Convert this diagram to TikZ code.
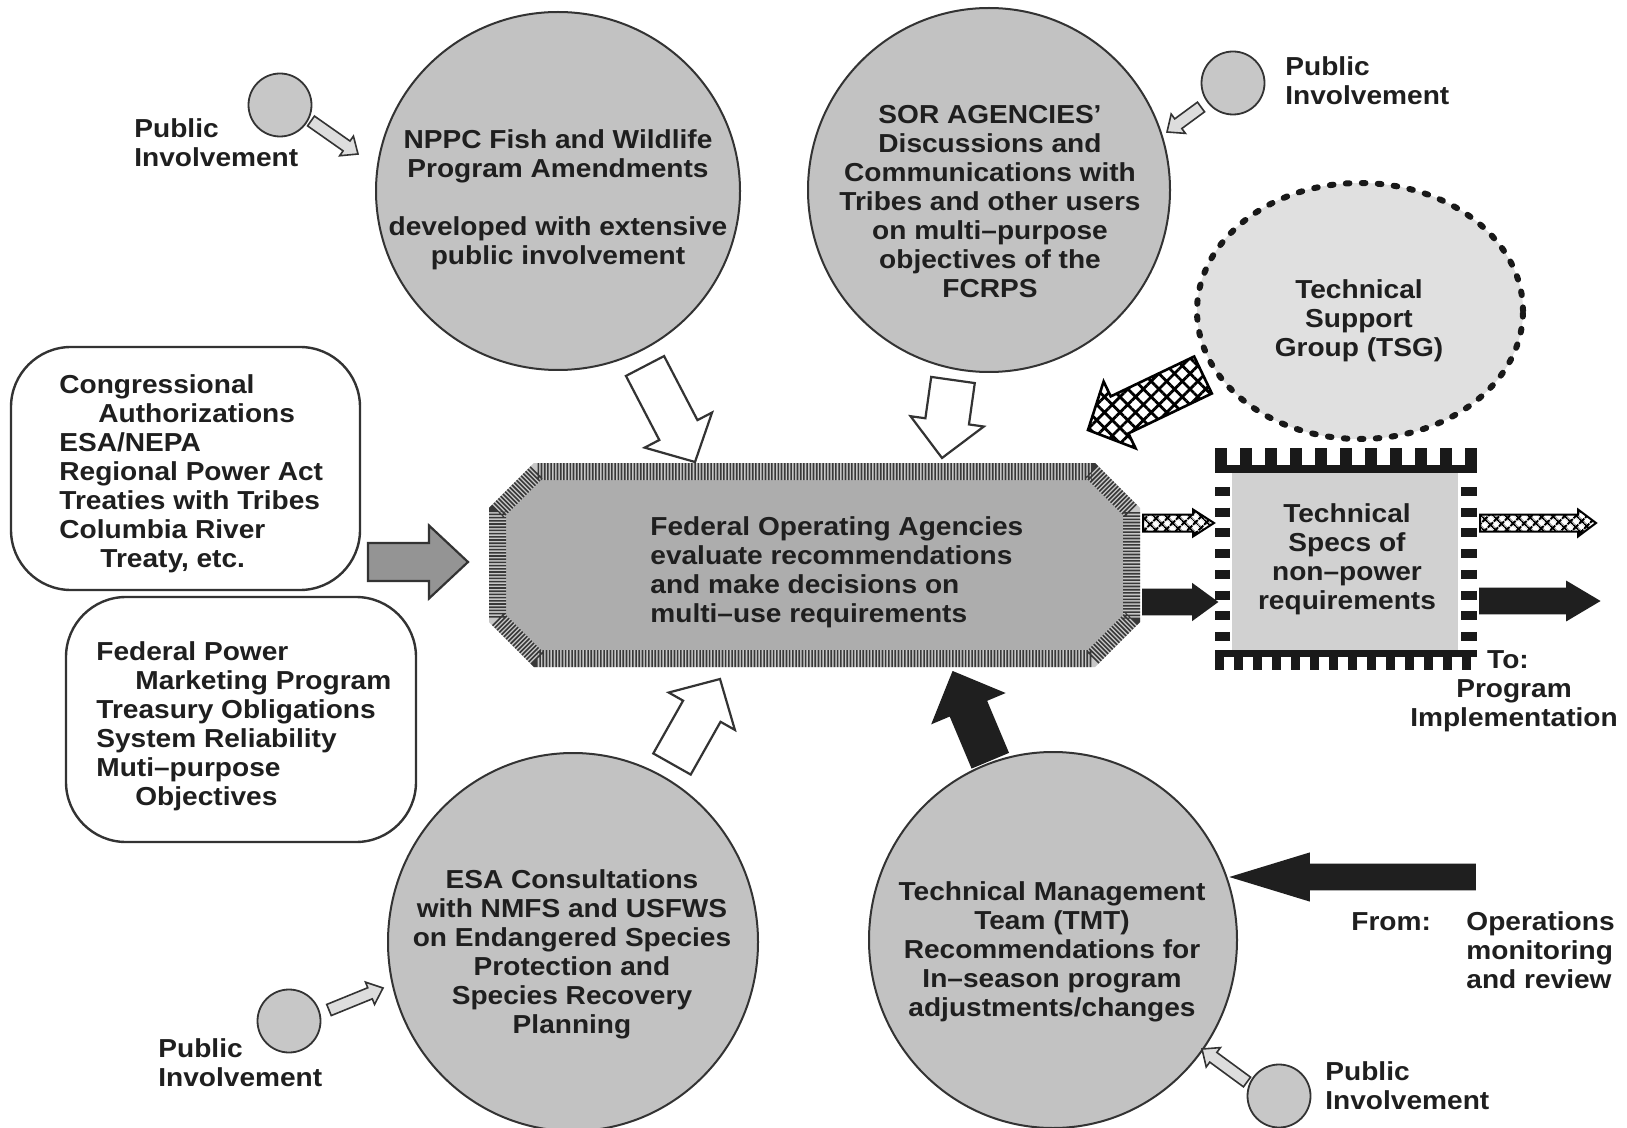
\documentclass[tikz,border=0pt]{standalone}
\usepackage{fontspec}
\setmainfont{Liberation Sans}[FakeStretch=1.08]
\usetikzlibrary{shapes.geometric,calc,patterns.meta}
\definecolor{ellfill}{gray}{0.76}
\definecolor{pubfill}{gray}{0.78}
\definecolor{fedfill}{gray}{0.68}
\definecolor{specfill}{gray}{0.82}
\definecolor{tsgfill}{gray}{0.88}
\definecolor{grayarr}{gray}{0.58}
\definecolor{linec}{gray}{0.2}
\definecolor{txtc}{gray}{0.12}
\definecolor{bandlight}{gray}{0.78}
\definecolor{banddark}{gray}{0.22}
% block arrow: [style]{from}{to}{shaft half width}{head half width}{head length}
\newcommand\barrow[6][]{%
  \coordinate (bah) at ($(#3)!#6!(#2)$);
  \path[#1] ($(#2)!#4!90:(#3)$) -- ($(bah)!#4!90:(#3)$) -- ($(bah)!#5!90:(#3)$) -- (#3)
    -- ($(bah)!#5!270:(#3)$) -- ($(bah)!#4!270:(#3)$) -- ($(#2)!#4!270:(#3)$) -- cycle;}
\begin{document}
\begin{tikzpicture}[x=0.5pt,y=-0.5pt,
  tx/.style={font=\fontsize{13}{14.5}\selectfont\bfseries, text=txtc, inner sep=0pt},
  bigell/.style={ellipse, draw=linec, line width=1pt, fill=ellfill, inner sep=0pt},
  pubc/.style={circle, draw=linec, line width=0.9pt, fill=pubfill, inner sep=0pt, minimum size=31.5pt},
  rbox/.style={draw=linec, line width=1.2pt, fill=white, rounded corners=30pt, inner sep=0pt},
  whitearr/.style={draw=linec, line width=1.1pt, fill=white, line join=miter},
  smallarr/.style={draw=linec, line width=0.8pt, fill=pubfill!60!white, line join=miter},
  blackarr/.style={draw=black!88, line width=0.8pt, fill=black!88, line join=miter},
  grayarr/.style={draw=linec, line width=1.1pt, fill=grayarr, line join=miter},
  hatchbig/.style={draw=black, line width=1.3pt, line join=miter, preaction={fill=white},
    pattern={Hatch[angle=45,distance=5.5pt,line width=1.4pt]}, pattern color=black},
  hatchsmall/.style={draw=black, line width=1pt, line join=miter, preaction={fill=white},
    pattern={Hatch[angle=45,distance=4pt,line width=1.1pt]}, pattern color=black}]
\useasboundingbox (0,0) rectangle (1627,1128);
\clip (0,0) rectangle (1627,1128);
\fill[white] (0,0) rectangle (1627,1128);

% ---- big ellipses ----
\node[bigell, minimum width=182pt, minimum height=179pt] (nppc) at (558,191) {};
\node[bigell, minimum width=181pt, minimum height=182pt] (sor) at (989,190) {};
\node[bigell, minimum width=185pt, minimum height=189pt] (esa) at (573,942) {};
\node[bigell, minimum width=184pt, minimum height=188pt] (tmt) at (1053,940) {};
\node[ellipse, fill=tsgfill, inner sep=0pt, minimum width=163pt, minimum height=128pt,
  draw=black!90, line width=3pt, line cap=round, dash pattern=on 1.8pt off 6.2pt] (tsg) at (1360,311) {};

% ---- public involvement circles ----
\node[pubc] (pa) at (280,105) {};
\node[pubc] (pb) at (1233,83) {};
\node[pubc] (pc) at (289,1021) {};
\node[pubc] (pd) at (1279,1096) {};

% ---- rounded boxes ----
\node[rbox, minimum width=174.5pt, minimum height=121.5pt] (cong) at (185.5,468.5) {};
\node[rbox, minimum width=175pt, minimum height=122.5pt] (fpm) at (241,719.5) {};

% ---- central octagon ----
\coordinate (fed) at (814.5,565);
\path[fill=fedfill, draw=bandlight, line width=8.5pt, line join=miter,
  postaction={draw=banddark, line width=8.5pt, dash pattern=on 0.8pt off 0.8pt}]
  (537.5,471.5) -- (1091.5,471.5) -- (1131.5,511.5) -- (1131.5,618.5)
  -- (1091.5,658.5) -- (537.5,658.5) -- (497.5,618.5) -- (497.5,511.5) -- cycle;

% ---- technical specs box ----
\node[fill=specfill, minimum width=113pt, minimum height=92.5pt, inner sep=0pt] (specs) at (1345,560.5) {};
\draw[black!90, line width=4pt] (1215,469) -- (1477,469);
\draw[black!90, line width=9.5pt, dash pattern=on 6pt off 6.5pt] (1215,457.5) -- (1477,457.5);
\draw[black!90, line width=7.5pt, dash pattern=on 4.5pt off 5.85pt] (1222.5,487) -- (1222.5,650);
\draw[black!90, line width=8pt, dash pattern=on 4.5pt off 5.85pt] (1468.5,487) -- (1468.5,650);
\draw[black!90, line width=3.5pt] (1215,653.5) -- (1477,653.5);
\draw[black!90, line width=8.5pt, dash pattern=on 4.5pt off 5pt] (1215,661.5) -- (1477,661.5);

% ---- arrow end points ----
\coordinate (a1s) at (311,121);   \coordinate (a1e) at (358,154);
\coordinate (a2s) at (1201,107);  \coordinate (a2e) at (1167,132);
\coordinate (a3s) at (329,1010);  \coordinate (a3e) at (383,988);
\coordinate (a4s) at (1247,1082); \coordinate (a4e) at (1202,1049);
\coordinate (a5s) at (645,366);   \coordinate (a5e) at (695,462);
\coordinate (a6s) at (953,380);   \coordinate (a6e) at (942,458);
\coordinate (a7s) at (1203,375);  \coordinate (a7e) at (1088,430);
\coordinate (a8s) at (672,764);   \coordinate (a8e) at (720,679);
\coordinate (a9s) at (990,760);   \coordinate (a9e) at (953,672);
\coordinate (a10s) at (368,562);  \coordinate (a10e) at (468,562);
\coordinate (a11s) at (1143,523); \coordinate (a11e) at (1214,523);
\coordinate (a12s) at (1143,602); \coordinate (a12e) at (1217,602);
\coordinate (a13s) at (1480,523); \coordinate (a13e) at (1596,523);
\coordinate (a14s) at (1480,601); \coordinate (a14e) at (1599,601);
\coordinate (a15s) at (1475,877); \coordinate (a15e) at (1232,877);

% ---- arrows ----
\barrow[smallarr]{a1s}{a1e}{3pt}{6pt}{7pt}
\barrow[smallarr]{a2s}{a2e}{3pt}{6pt}{7pt}
\barrow[smallarr]{a3s}{a3e}{3pt}{6pt}{7pt}
\barrow[smallarr]{a4s}{a4e}{3pt}{6pt}{7pt}
\barrow[whitearr]{a5s}{a5e}{10.75pt}{19pt}{18pt}
\barrow[whitearr]{a6s}{a6e}{11pt}{18.5pt}{18.5pt}
\barrow[hatchbig]{a7s}{a7e}{10.25pt}{18.5pt}{17.5pt}
\barrow[whitearr]{a8s}{a8e}{10.75pt}{19pt}{18.5pt}
\barrow[blackarr]{a9s}{a9e}{9.75pt}{19.25pt}{19.5pt}
\barrow[grayarr]{a10s}{a10e}{9.5pt}{18.25pt}{19.5pt}
\barrow[hatchsmall]{a11s}{a11e}{4.25pt}{6.75pt}{10.5pt}
\barrow[blackarr]{a12s}{a12e}{6.25pt}{8.75pt}{12pt}
\barrow[hatchsmall]{a13s}{a13e}{4.25pt}{6.75pt}{9pt}
\barrow[blackarr]{a14s}{a14e}{6.25pt}{9.5pt}{16pt}
\barrow[blackarr]{a15s}{a15e}{6.25pt}{11.75pt}{38.5pt}

% ---- texts ----
\node[tx, anchor=north west, align=left] (pa-t) at (134,116.7) {\strut Public\\Involvement};
\node[tx, anchor=north west, align=left] (pb-t) at (1285,54.7) {\strut Public\\Involvement};
\node[tx, anchor=north west, align=left] (pc-t) at (158,1036.7) {\strut Public\\Involvement};
\node[tx, anchor=north west, align=left] (pd-t) at (1325,1059.7) {\strut Public\\Involvement};
\node[tx, anchor=north, align=center] (nppc-t) at (558,127.7)
  {\strut NPPC Fish and Wildlife\\Program Amendments\\[14.5pt]developed with extensive\\public involvement};
\node[tx, anchor=north, align=center] (sor-t) at (990,102.7)
  {\strut SOR AGENCIES'\\Discussions and\\Communications with\\Tribes and other users\\on multi--purpose\\objectives of the\\FCRPS};
\node[tx, anchor=north, align=center] (tsg-t) at (1359,277.7) {\strut Technical\\Support\\Group (TSG)};
\node[tx, anchor=north west, align=left] (cong-t) at (59,372.7)
  {\strut Congressional\\\hspace*{19.5pt}Authorizations\\ESA/NEPA\\Regional Power Act\\Treaties with Tribes\\Columbia River\\\hspace*{20.5pt}Treaty, etc.};
\node[tx, anchor=north west, align=left] (fpm-t) at (96,639.7)
  {\strut Federal Power\\\hspace*{19.5pt}Marketing Program\\Treasury Obligations\\System Reliability\\Muti--purpose\\\hspace*{19.5pt}Objectives};
\node[tx, anchor=north west, align=left] (fed-t) at (650,514.7)
  {\strut Federal Operating Agencies\\evaluate recommendations\\and make decisions on\\multi--use requirements};
\node[tx, anchor=north, align=center] (specs-t) at (1347,501.7) {\strut Technical\\Specs of\\non--power\\requirements};
\node[tx, anchor=north, align=center] (to-t) at (1514,647.7) {\strut To:\hspace*{6pt}\\Program\\Implementation};
\node[tx, anchor=north, align=center] (esa-t) at (572,867.7)
  {\strut ESA Consultations\\with NMFS and USFWS\\on Endangered Species\\Protection and\\Species Recovery\\Planning};
\node[tx, anchor=north, align=center] (tmt-t) at (1052,879.7)
  {\strut Technical Management\\Team (TMT)\\Recommendations for\\In--season program\\adjustments/changes};
\node[tx, anchor=north west, align=left] (from-t) at (1351,909.7) {\strut From:};
\node[tx, anchor=north west, align=left] (ops-t) at (1466,909.7) {\strut Operations\\monitoring\\and review};
\end{tikzpicture}
\end{document}
